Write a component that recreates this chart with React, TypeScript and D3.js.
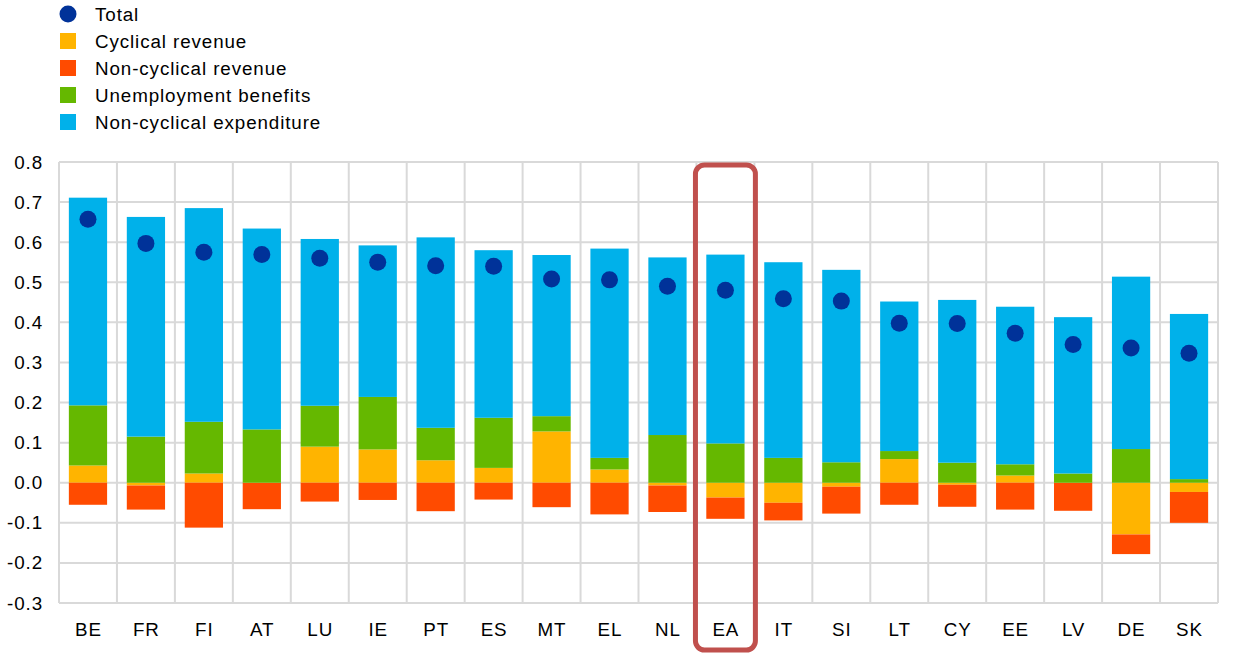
import { useRef, useEffect } from 'react';
import * as d3 from 'd3';

// Countries along the x axis
const countries = ['BE', 'FR', 'FI', 'AT', 'LU', 'IE', 'PT', 'ES', 'MT', 'EL', 'NL', 'EA', 'IT', 'SI', 'LT', 'CY', 'EE', 'LV', 'DE', 'SK'];

// Component contributions
const cyclicalRevenue = [0.043, -0.007, 0.023, 0.0, 0.090, 0.083, 0.056, 0.037, 0.128, 0.033, -0.007, -0.037, -0.050, -0.010, 0.059, -0.005, 0.018, 0.0, -0.129, -0.023];
const nonCyclicalRevenue = [-0.055, -0.060, -0.112, -0.066, -0.047, -0.043, -0.071, -0.042, -0.061, -0.079, -0.066, -0.053, -0.044, -0.067, -0.055, -0.055, -0.067, -0.070, -0.049, -0.077];
const unemploymentBenefits = [0.150, 0.115, 0.129, 0.133, 0.102, 0.131, 0.081, 0.125, 0.038, 0.029, 0.119, 0.098, 0.062, 0.051, 0.020, 0.050, 0.028, 0.023, 0.084, 0.009];
const nonCyclicalExpenditure = [0.518, 0.548, 0.533, 0.501, 0.416, 0.378, 0.475, 0.418, 0.402, 0.522, 0.443, 0.471, 0.488, 0.480, 0.373, 0.406, 0.393, 0.390, 0.430, 0.412];
const total = [0.657, 0.597, 0.575, 0.569, 0.560, 0.550, 0.541, 0.540, 0.508, 0.506, 0.490, 0.480, 0.459, 0.453, 0.398, 0.397, 0.373, 0.345, 0.336, 0.323];

const yTicks = [-0.3, -0.2, -0.1, 0, 0.1, 0.2, 0.3, 0.4, 0.5, 0.6, 0.7, 0.8];
const highlighted = 'EA';

const series = [
  { key: 'cyc', label: 'Cyclical revenue', color: '#FFB400', values: cyclicalRevenue },
  { key: 'ncr', label: 'Non-cyclical revenue', color: '#FF4B00', values: nonCyclicalRevenue },
  { key: 'ue', label: 'Unemployment benefits', color: '#65B800', values: unemploymentBenefits },
  { key: 'nce', label: 'Non-cyclical expenditure', color: '#00B1EA', values: nonCyclicalExpenditure },
];
const totalColor = '#003299';

const W = 1240;
const H = 655;
const FONT = 'Arial, "Liberation Sans", sans-serif';
const FS = 18.8;
const LS = 0.9;

export default function App() {
  const svgRef = useRef<SVGSVGElement>(null);

  useEffect(() => {
    if (!svgRef.current) return;
    const svg = d3.select(svgRef.current);
    svg.selectAll('*').remove();

    const margin = { top: 162, right: 22, bottom: 52, left: 59 };
    const width = W - margin.left - margin.right;
    const height = H - margin.top - margin.bottom;

    const g = svg.append('g').attr('transform', `translate(${margin.left},${margin.top})`);

    const x = d3.scaleBand().domain(countries).range([0, width]).paddingInner(0.34).paddingOuter(0.17);
    const y = d3.scaleLinear().domain([-0.3, 0.8]).range([height, 0]);
    const step = x.step();
    const bandStart = (c: string) => (x(c) ?? 0) - step * x.paddingInner() / 2;

    // Grid: horizontal lines at ticks, vertical lines at category boundaries
    g.append('g')
      .selectAll('line.h')
      .data(yTicks)
      .join('line')
      .attr('x1', 0).attr('x2', width)
      .attr('y1', (d) => y(d)).attr('y2', (d) => y(d))
      .attr('stroke', '#d9d9d9').attr('stroke-width', 2);

    const bounds = countries.map((c) => bandStart(c)).concat([width]);
    g.append('g')
      .selectAll('line.v')
      .data(bounds)
      .join('line')
      .attr('x1', (d) => d).attr('x2', (d) => d)
      .attr('y1', 0).attr('y2', height)
      .attr('stroke', '#d9d9d9').attr('stroke-width', 2);

    // Stacked bars
    const rows = countries.map((c, i) => {
      const r: Record<string, number | string> = { country: c };
      series.forEach((s) => { r[s.key] = s.values[i]; });
      return r;
    });
    const stacked = d3.stack<Record<string, number | string>>()
      .keys(series.map((s) => s.key))
      .value((d, k) => d[k] as number)
      .offset(d3.stackOffsetDiverging)(rows);

    stacked.forEach((layer, li) => {
      g.append('g')
        .selectAll('rect')
        .data(layer)
        .join('rect')
        .attr('x', (d) => x(d.data.country as string) ?? 0)
        .attr('width', x.bandwidth())
        .attr('y', (d) => y(Math.max(d[0], d[1])))
        .attr('height', (d) => Math.abs(y(d[0]) - y(d[1])))
        .attr('fill', series[li].color);
    });

    // Totals
    g.append('g')
      .selectAll('circle')
      .data(countries)
      .join('circle')
      .attr('cx', (c) => (x(c) ?? 0) + x.bandwidth() / 2)
      .attr('cy', (_, i) => y(total[i]))
      .attr('r', 8.5)
      .attr('fill', totalColor);

    // Y axis labels (plain hyphen for negatives, as in the source)
    g.append('g')
      .selectAll('text')
      .data(yTicks)
      .join('text')
      .attr('x', -16)
      .attr('y', (d) => y(d))
      .attr('dy', '0.35em')
      .attr('text-anchor', 'end')
      .attr('font-family', FONT)
      .attr('font-size', FS)
      .attr('letter-spacing', LS)
      .attr('fill', '#000')
      .text((d) => d.toFixed(1));

    // X axis labels
    g.append('g')
      .selectAll('text')
      .data(countries)
      .join('text')
      .attr('x', (c) => (x(c) ?? 0) + x.bandwidth() / 2 + LS / 2)
      .attr('y', height + 26)
      .attr('dy', '0.35em')
      .attr('text-anchor', 'middle')
      .attr('font-family', FONT)
      .attr('font-size', FS)
      .attr('letter-spacing', LS)
      .attr('fill', '#000')
      .text((c) => c);

    // Highlight box around the euro area
    const hx = bandStart(highlighted);
    g.append('rect')
      .attr('x', hx - 1)
      .attr('y', 3)
      .attr('width', step + 2)
      .attr('height', H - margin.top - 8)
      .attr('rx', 9)
      .attr('fill', 'none')
      .attr('stroke', '#C0504D')
      .attr('stroke-width', 5);

    // Legend
    const legend = svg.append('g').attr('font-family', FONT).attr('font-size', FS).attr('letter-spacing', LS);
    const rowY = (i: number) => 14 + i * 27;
    legend.append('circle').attr('cx', 68).attr('cy', rowY(0)).attr('r', 8.5).attr('fill', totalColor);
    legend.append('text').attr('x', 95).attr('y', rowY(0)).attr('dy', '0.35em').text('Total');
    const legendOrder = ['cyc', 'ncr', 'ue', 'nce'];
    legendOrder.forEach((k, i) => {
      const s = series.find((d) => d.key === k)!;
      legend.append('rect').attr('x', 60).attr('y', rowY(i + 1) - 8).attr('width', 16).attr('height', 16).attr('fill', s.color);
      legend.append('text').attr('x', 95).attr('y', rowY(i + 1)).attr('dy', '0.35em').text(s.label);
    });
  }, []);

  return <svg ref={svgRef} width={W} height={H} style={{ position: 'absolute', left: 0, top: 0, background: '#fff' }} />;
}
